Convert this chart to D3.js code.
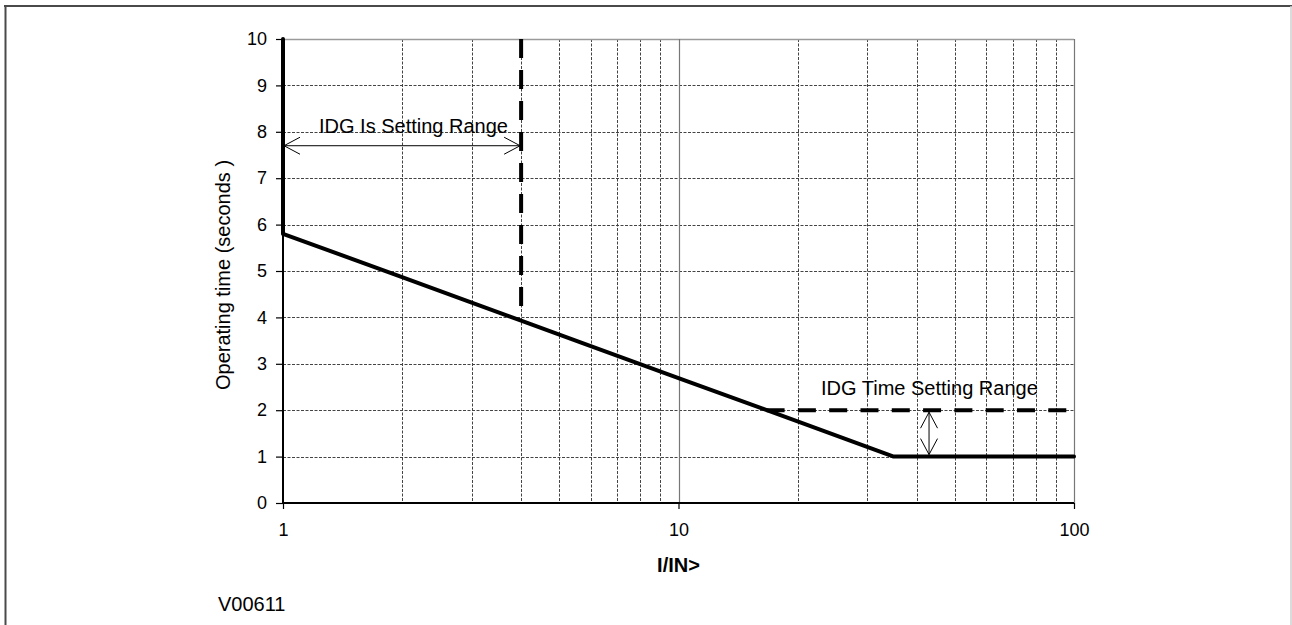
<!DOCTYPE html>
<html>
<head>
<meta charset="utf-8">
<script src="https://cdn.jsdelivr.net/npm/d3@7"></script>
<style>
    body { margin: 0; background: #fff; }
    text { font-family: "Liberation Sans", Arial, sans-serif; fill: #000; }
</style>
</head>
<body>
<div id="chart"></div>
<script>
// Chart values
let yTicks = [0, 1, 2, 3, 4, 5, 6, 7, 8, 9, 10];
let xTicks = [1, 10, 100];
let xGrid = [2, 3, 4, 5, 6, 7, 8, 9, 20, 30, 40, 50, 60, 70, 80, 90];

// IDG operating curve (I/IN>, seconds)
let curveI = [1, 1, 2, 3, 4, 6, 10, 20, 35, 100];
let curveT = [10, 5.8, 4.87, 4.32, 3.93, 3.38, 2.69, 1.76, 1.0, 1.0];

// Setting range limits
let isSettingI = [4, 4];
let isSettingT = [10, 4];
let timeSettingI = [16.7, 100];
let timeSettingT = [2, 2];

let isArrowI = [1, 4];
let isArrowT = 7.7;
let timeArrowI = 43;
let timeArrowT = [2, 1];

let width = 1292;
let height = 625;

let svg = d3.select('#chart')
            .append('svg')
            .attr('width', width)
            .attr('height', height);

// outer frame
svg.append('line').attr('x1', 4).attr('x2', width).attr('y1', 6).attr('y2', 6)
    .attr('stroke', '#4a4a4a').attr('stroke-width', 2);
svg.append('line').attr('x1', 5.5).attr('x2', 5.5).attr('y1', 5).attr('y2', height)
    .attr('stroke', '#4a4a4a').attr('stroke-width', 2);
svg.append('line').attr('x1', 1291).attr('x2', 1291).attr('y1', 6).attr('y2', height)
    .attr('stroke', '#cfcfcf').attr('stroke-width', 1.5);

let xScale = d3.scaleLog()
                .domain([1, 100])
                .range([283, 1074]);

let yScale = d3.scaleLinear()
                .domain([0, 10])
                .range([503, 39]);

// arrow heads (open chevrons)
let defs = svg.append('defs');
defs.append('marker')
    .attr('id', 'chev')
    .attr('markerUnits', 'userSpaceOnUse')
    .attr('viewBox', '-17 -10 19 20')
    .attr('refX', 0)
    .attr('refY', 0)
    .attr('markerWidth', 19)
    .attr('markerHeight', 20)
    .attr('orient', 'auto-start-reverse')
    .append('path')
    .attr('d', 'M-16,-8.5L0,0L-16,8.5')
    .attr('fill', 'none')
    .attr('stroke', '#000')
    .attr('stroke-width', 1);

// horizontal grid
svg.append('g')
    .selectAll('line')
    .data(yTicks.filter(d => d > 0 && d < 10))
    .enter()
    .append('line')
    .attr('x1', xScale(1))
    .attr('x2', xScale(100))
    .attr('y1', d => Math.round(yScale(d)) + 0.5)
    .attr('y2', d => Math.round(yScale(d)) + 0.5)
    .attr('stroke', '#444')
    .attr('stroke-dasharray', '3,1.5');

// vertical grid
svg.append('g')
    .selectAll('line')
    .data(xGrid)
    .enter()
    .append('line')
    .attr('x1', d => Math.round(xScale(d)) + 0.5)
    .attr('x2', d => Math.round(xScale(d)) + 0.5)
    .attr('y1', yScale(10))
    .attr('y2', yScale(0))
    .attr('stroke', '#444')
    .attr('stroke-dasharray', '3,1.5');

// solid lines at top, right and the 10 decade
svg.append('line')
    .attr('x1', xScale(1)).attr('x2', xScale(100))
    .attr('y1', yScale(10) + 0.5).attr('y2', yScale(10) + 0.5)
    .attr('stroke', '#9a9a9a').attr('stroke-width', 1.5);
svg.append('g')
    .selectAll('line')
    .data([10, 100])
    .enter()
    .append('line')
    .attr('x1', d => Math.round(xScale(d)) + 0.5)
    .attr('x2', d => Math.round(xScale(d)) + 0.5)
    .attr('y1', yScale(10))
    .attr('y2', yScale(0))
    .attr('stroke', '#777')
    .attr('stroke-width', 1.2);

// axes
let xAxis = d3.axisBottom(xScale)
                .tickValues(xTicks)
                .tickFormat(d3.format('d'))
                .tickSize(6)
                .tickPadding(14);

let yAxis = d3.axisLeft(yScale)
                .tickValues(yTicks)
                .tickSize(7)
                .tickPadding(9);

let gx = svg.append('g')
            .attr('transform', 'translate(0,' + yScale(0) + ')')
            .call(xAxis);

let gy = svg.append('g')
            .attr('transform', 'translate(' + xScale(1) + ',0)')
            .call(yAxis);

[gx, gy].forEach(g => {
    g.select('.domain').attr('stroke', '#000').attr('stroke-width', 2);
    g.selectAll('.tick line').attr('stroke', '#000').attr('stroke-width', 1.2);
    g.selectAll('.tick text')
        .attr('font-family', '"Liberation Sans", Arial, sans-serif')
        .attr('font-size', 18)
        .attr('fill', '#000');
});
gy.select('.domain').attr('d', 'M0,' + yScale(10) + 'V' + yScale(0));
gx.select('.domain').attr('d', 'M' + xScale(1) + ',0H' + xScale(100));

// axis titles
svg.append('text')
    .attr('x', xScale(10))
    .attr('y', 572)
    .attr('text-anchor', 'middle')
    .attr('font-size', 20)
    .attr('font-weight', 'bold')
    .text('I/IN>');

svg.append('text')
    .attr('transform', 'translate(229.5,' + ((yScale(10) + yScale(0)) / 2 + 4) + ') rotate(-90)')
    .attr('text-anchor', 'middle')
    .attr('font-size', 20)
    .text('Operating time (seconds )');

// IDG curve
let curve = curveI.map((d, i) => [d, curveT[i]]);
let line = d3.line()
                .x(d => xScale(d[0]))
                .y(d => yScale(d[1]));

svg.append('path')
    .datum(curve)
    .attr('d', line)
    .attr('fill', 'none')
    .attr('stroke', '#000')
    .attr('stroke-width', 4)
    .attr('stroke-linejoin', 'round')
    .attr('stroke-linecap', 'round');

// setting range dashed lines
svg.append('path')
    .datum(isSettingI.map((d, i) => [d, isSettingT[i]]))
    .attr('d', line)
    .attr('fill', 'none')
    .attr('stroke', '#000')
    .attr('stroke-width', 4)
    .attr('stroke-dasharray', '19,12');

svg.append('path')
    .datum(timeSettingI.map((d, i) => [d, timeSettingT[i]]))
    .attr('d', line)
    .attr('fill', 'none')
    .attr('stroke', '#000')
    .attr('stroke-width', 4)
    .attr('stroke-dasharray', '18,13.3');

// range arrows
svg.append('line')
    .attr('x1', xScale(isArrowI[0]) + 1)
    .attr('x2', xScale(isArrowI[1]) - 1)
    .attr('y1', yScale(isArrowT))
    .attr('y2', yScale(isArrowT))
    .attr('stroke', '#000')
    .attr('stroke-width', 1)
    .attr('marker-start', 'url(#chev)')
    .attr('marker-end', 'url(#chev)');

svg.append('line')
    .attr('x1', xScale(timeArrowI))
    .attr('x2', xScale(timeArrowI))
    .attr('y1', yScale(timeArrowT[0]) + 2)
    .attr('y2', yScale(timeArrowT[1]) - 2)
    .attr('stroke', '#000')
    .attr('stroke-width', 1)
    .attr('marker-start', 'url(#chev)')
    .attr('marker-end', 'url(#chev)');

// annotations
svg.append('text')
    .attr('x', 319)
    .attr('y', 133)
    .attr('font-size', 20)
    .text('IDG Is Setting Range');

svg.append('text')
    .attr('x', 821)
    .attr('y', 395)
    .attr('font-size', 20)
    .text('IDG Time Setting Range');

svg.append('text')
    .attr('x', 218)
    .attr('y', 611)
    .attr('font-size', 20)
    .text('V00611');
</script>
</body>
</html>
